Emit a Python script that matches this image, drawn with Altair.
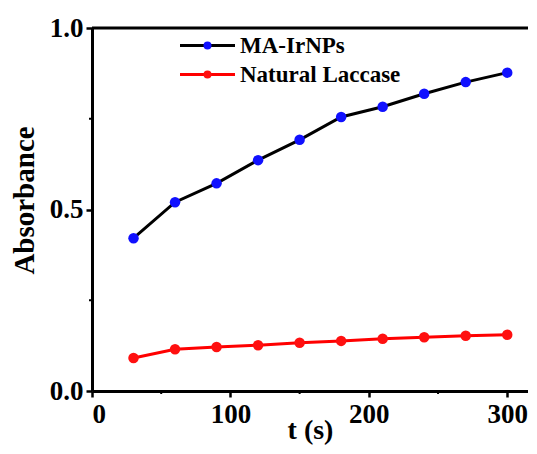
import altair as alt
import pandas as pd

times = [30, 60, 90, 120, 150, 180, 210, 240, 270, 300]
ma_irnps = [0.421, 0.520, 0.572, 0.636, 0.692, 0.755, 0.783, 0.819, 0.851, 0.877]
laccase = [0.091, 0.115, 0.121, 0.126, 0.133, 0.138, 0.144, 0.148, 0.152, 0.155]
series_names = ["MA-IrNPs", "Natural Laccase"]
line_colors = ["#000000", "#ff0000"]
marker_colors = ["#1010ff", "#ff1010"]
x_ticks = [0, 100, 200, 300]
y_ticks = [0.0, 0.5, 1.0]
x_minor = [50, 150, 250]
y_minor = [0.25, 0.75]

rows = []
for t, a, b in zip(times, ma_irnps, laccase):
    rows.append({"t": t, "A": a, "series": series_names[0]})
    rows.append({"t": t, "A": b, "series": series_names[1]})
df = pd.DataFrame(rows)

W, H = 436, 363
FONT = "Liberation Serif"

xscale = alt.Scale(domain=[0, 315], nice=False, zero=False)
yscale = alt.Scale(domain=[0, 1], nice=False)

xaxis = alt.Axis(values=x_ticks, title="t (s)", labelFont=FONT, labelFontSize=27,
                 labelFontWeight="bold", titleFont=FONT, titleFontSize=28,
                 titleFontWeight="bold", domainWidth=3, domainColor="black",
                 tickColor="black", tickWidth=2.5, tickSize=6, labelPadding=4,
                 titleY=47, titleBaseline="alphabetic",
                 labelColor="black", titleColor="black", grid=False)
yaxis = alt.Axis(values=y_ticks, format=".1f", title="Absorbance", labelFont=FONT,
                 labelFontSize=27, labelFontWeight="bold", titleFont=FONT,
                 titleFontSize=29, titleFontWeight="bold", domainWidth=3,
                 domainColor="black", tickColor="black", tickWidth=2.5, tickSize=6,
                 labelPadding=3, titleX=-59, titleY=172, titleBaseline="alphabetic",
                 labelColor="black", titleColor="black", grid=False)

base = alt.Chart(df)

lines = base.mark_line(strokeWidth=3).encode(
    x=alt.X("t:Q", scale=xscale, axis=xaxis),
    y=alt.Y("A:Q", scale=yscale, axis=yaxis),
    stroke=alt.Stroke("series:N", scale=alt.Scale(range=line_colors),
                      legend=alt.Legend(title=None, orient="none", legendX=104, legendY=6,
                                        symbolType="M-5.5,0H5.5", symbolSize=100,
                                        symbolStrokeWidth=3, labelFont=FONT,
                                        labelFontSize=23, labelFontWeight="bold",
                                        labelColor="black", labelOffset=21,
                                        labelLimit=400, rowPadding=5, padding=0)),
    detail="series:N",
)

points = base.mark_point(filled=True, size=110, opacity=1).encode(
    x=alt.X("t:Q", scale=xscale),
    y=alt.Y("A:Q", scale=yscale),
    fill=alt.Fill("series:N", scale=alt.Scale(domain=series_names, range=marker_colors),
                  legend=alt.Legend(title=None, orient="none", legendX=104, legendY=6,
                                    symbolType="circle", symbolSize=64,
                                    symbolStrokeWidth=0, labelFont=FONT,
                                    labelFontSize=23, labelFontWeight="bold",
                                    labelOpacity=0, labelOffset=21, labelLimit=400,
                                    rowPadding=5, padding=0)),
)

top_line = alt.Chart(pd.DataFrame({"v": [1.0]})).mark_rule(
    color="black", strokeWidth=3).encode(
    y=alt.Y("v:Q", scale=yscale), x=alt.value(0), x2=alt.value(W))

xminor = alt.Chart(pd.DataFrame({"m": x_minor})).mark_rule(
    color="black", strokeWidth=2).encode(
    x=alt.X("m:Q", scale=xscale), y=alt.value(H), y2=alt.value(H + 3))

yminor = alt.Chart(pd.DataFrame({"m": y_minor})).mark_rule(
    color="black", strokeWidth=2).encode(
    y=alt.Y("m:Q", scale=yscale), x=alt.value(0), x2=alt.value(-3))

chart = alt.layer(lines, points, top_line, xminor, yminor).resolve_legend(
    stroke="independent", fill="independent"
).properties(
    width=W, height=H,
    autosize=alt.AutoSizeParams(type="none"),
    padding={"left": 84, "top": 20, "right": 0, "bottom": 55},
).configure_view(stroke=None).configure(background="white")

chart.save("out.html", embed_options={"renderer": "svg", "actions": False})
